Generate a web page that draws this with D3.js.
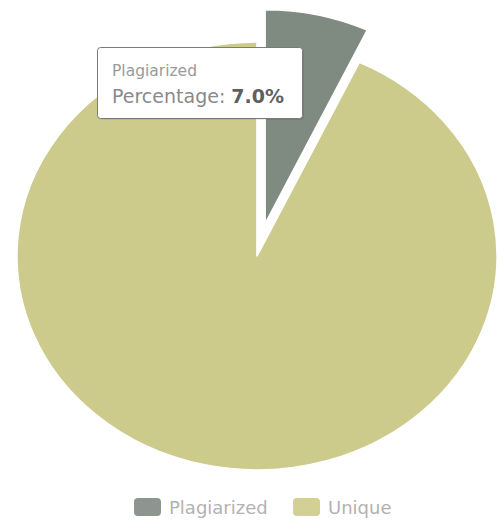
<!DOCTYPE html>
<html>
<head>
<meta charset="utf-8">
<script src="https://cdn.jsdelivr.net/npm/d3@7"></script>
<style>
  html, body { margin: 0; padding: 0; background: #ffffff; }
  svg { display: block; font-family: "DejaVu Sans", sans-serif; }
</style>
</head>
<body>
<svg id="chart" width="498" height="525"></svg>
<script>
// ---- data ----
const categories = ["Plagiarized", "Unique"];
const percentages = [7.0, 93.0];
const colors = ["#7f8a80", "#cccb8c"];
const legendColors = ["#8e9590", "#d2d093"];
const tooltipTitle = "Plagiarized";
const tooltipLabel = "Percentage: ";
const tooltipValue = "7.0%";

const svg = d3.select("#chart");
const W = 498, H = 525;
const cx = 257, cy = 256, R = 214, sx = 1.122;
const explode = 33;

const data = categories.map((c, i) => ({ name: c, value: percentages[i], color: colors[i] }));
const pie = d3.pie().sort(null).value(d => d.value).startAngle(0).endAngle(2 * Math.PI);
const arc = d3.arc().innerRadius(0).outerRadius(R);
const arcs = pie(data);

const g = svg.append("g").attr("transform", `translate(${cx},${cy}) scale(${sx},1)`);

g.selectAll("path.slice")
  .data(arcs)
  .join("path")
  .attr("class", "slice")
  .attr("d", arc)
  .attr("fill", d => d.data.color)
  .attr("stroke", "#ffffff")
  .attr("stroke-width", 1.5)
  .attr("stroke-linejoin", "round")
  .attr("transform", d => {
    if (d.index !== 0) return null;
    const mid = (d.startAngle + d.endAngle) / 2;
    return `translate(${Math.sin(mid) * explode},${-Math.cos(mid) * explode})`;
  });

// ---- tooltip ----
const tt = svg.append("g").attr("transform", "translate(97,47)");
tt.append("rect")
  .attr("x", 2).attr("y", 2).attr("width", 205).attr("height", 71)
  .attr("rx", 3).attr("fill", "rgba(0,0,0,0.08)");
tt.append("rect")
  .attr("x", 0.5).attr("y", 0.5).attr("width", 205).attr("height", 71)
  .attr("rx", 3).attr("fill", "#ffffff").attr("stroke", "#7a7a7a").attr("stroke-width", 1);
tt.append("text")
  .attr("x", 15).attr("y", 29)
  .attr("font-size", 15.5).attr("fill", "#9a9a9a")
  .text(tooltipTitle);
const t2 = tt.append("text").attr("x", 15).attr("y", 56).attr("font-size", 19);
t2.append("tspan").attr("fill", "#8a8a8a").text(tooltipLabel);
t2.append("tspan").attr("fill", "#5f5f5f").attr("font-weight", "bold").text(tooltipValue);

// ---- legend ----
const legendX = d3.scalePoint().domain(categories).range([134, 293]);
const lg = svg.append("g").selectAll("g.item").data(categories).join("g")
  .attr("class", "item")
  .attr("transform", d => `translate(${legendX(d)},498)`);
lg.append("rect")
  .attr("width", 27).attr("height", 18).attr("rx", 4)
  .attr("fill", (d, i) => legendColors[i]);
lg.append("text")
  .attr("x", 35).attr("y", 15.5)
  .attr("font-size", 18).attr("fill", "#b2b2b2")
  .text(d => d);
</script>
</body>
</html>
